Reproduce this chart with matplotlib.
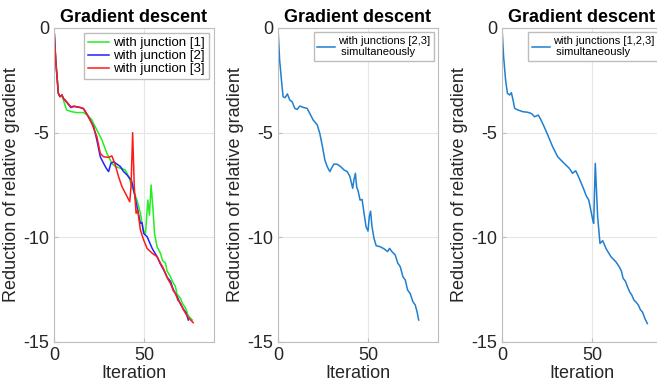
import matplotlib.pyplot as plt

plt.rcParams['font.family'] = ['Liberation Sans', 'DejaVu Sans']
plt.rcParams['axes.unicode_minus'] = False

# data: (iteration, reduction of relative gradient)
j1_it = [0, 1, 2.4, 3.3, 4.4, 5.2, 7, 9.8, 12.6, 16.3, 18.5, 20.9, 23.7, 26.5, 29.3, 32, 33.9, 36.7,
         39.4, 41.3, 43.1, 45.9, 47.8, 49.3, 50.6, 51.9, 52.8, 53.7, 54.8, 55.6, 57, 58.9, 60, 61.7,
         62.5, 64.4, 65.5, 67.2, 68, 70, 71, 72.8, 74, 75.6, 76.5]
j1_val = [0, -1.6, -3.12, -3.28, -3.2, -3.45, -3.92, -4.0, -4.04, -4.04, -4.16, -4.39, -4.87, -5.35,
          -5.99, -6.46, -6.62, -6.7, -6.78, -7.1, -7.58, -8.22, -8.85, -9.65, -9.81, -8.22, -8.94,
          -7.5, -8.7, -9.81, -10.45, -10.76, -11.1, -11.24, -11.6, -11.88, -12.1, -12.36, -12.7,
          -12.92, -13.15, -13.39, -13.7, -13.87, -13.95]

j2_it = [0, 1, 2.4, 3.3, 4.4, 5.2, 7, 9.3, 11.1, 14.4, 16.3, 18.5, 21.9, 23.7, 25.6, 27.4, 28.9, 30.2,
         31.5, 33, 34.8, 36.7, 38.5, 40.4, 41.9, 42.8, 43.7, 45.9, 47.8, 48.7, 49.6, 51.5, 54.3, 57,
         59, 60.7, 62.5, 64.4, 66, 68.1, 70, 71.9, 73, 73.7, 74.3]
j2_val = [0, -1.6, -3.12, -3.28, -3.2, -3.36, -3.55, -3.8, -3.75, -3.8, -3.86, -4.16, -4.71, -5.35,
          -6.15, -6.46, -6.7, -6.86, -6.46, -6.39, -6.5, -6.62, -6.86, -7.02, -7.18, -7.26, -7.58,
          -8.54, -9.33, -9.3, -9.81, -9.97, -10.53, -10.92, -11.3, -11.56, -11.9, -12.1, -12.5,
          -12.83, -13.2, -13.47, -13.6, -13.79, -13.95]

j3_it = [0, 1, 2.4, 3.3, 4.4, 5.2, 7, 9.3, 11.1, 14.4, 16.3, 18.5, 20.9, 23.7, 25.6, 27.4, 30.2, 32,
         33.9, 35.7, 37.6, 40, 41.9, 42.6, 43.5, 44.4, 45.4, 46.3, 47.8, 49.6, 51.5, 54.3, 57, 58.9,
         60, 61.7, 63, 64.4, 66, 67.2, 68.5, 70, 71.5, 72.8, 74, 75.6, 77]
j3_val = [0, -1.6, -3.12, -3.28, -3.2, -3.36, -3.52, -3.76, -3.73, -3.79, -3.84, -4.16, -4.55, -5.19,
          -5.99, -6.15, -6.18, -6.11, -6.54, -7.1, -7.58, -7.98, -8.3, -7.58, -5.0, -7.58, -8.85,
          -8.7, -9.65, -10.13, -10.53, -10.76, -10.92, -11.24, -11.4, -11.72, -12.0, -12.2, -12.55,
          -12.68, -13.0, -13.15, -13.45, -13.63, -13.8, -13.95, -14.08]

j23_it = [0, 0.9, 1.9, 2.8, 3.9, 5.2, 6.5, 7.8, 9.3, 10.6, 12, 13.9, 16.1, 17.6, 19.4, 21.7, 23.1,
          24.6, 25.9, 27.2, 28.7, 29.6, 30.9, 32.8, 34.6, 36.5, 38.3, 39.8, 41.3, 42, 42.8, 43.5,
          44.4, 45.4, 46.5, 47.6, 48.7, 49.8, 50.5, 51.2, 52, 53.1, 54.3, 56.5, 58.7, 60.6, 61.7, 63,
          64.8, 66.3, 67.6, 69.1, 70.4, 71.7, 73.1, 74.6, 75.9, 76.9, 77.8]
j23_val = [0, -1.53, -2.48, -3.28, -3.33, -3.15, -3.44, -3.52, -3.84, -3.89, -3.73, -3.79, -3.84,
           -4.08, -4.39, -4.63, -5.03, -5.67, -6.3, -6.62, -6.86, -6.7, -6.5, -6.51, -6.62, -6.78,
           -6.86, -7.1, -7.66, -7.26, -6.94, -7.58, -7.82, -8.22, -8.19, -8.85, -9.49, -9.7, -9.0,
           -8.75, -9.49, -10.05, -10.4, -10.45, -10.55, -10.68, -10.53, -10.68, -10.84, -11.24,
           -11.4, -11.88, -12.04, -12.52, -12.68, -13.07, -13.23, -13.55, -13.95]

j123_it = [0, 0.9, 2, 3, 4.2, 5.2, 6.1, 7, 8.9, 11.6, 13.8, 15.2, 16.5, 18, 20.1, 21.6, 23.5, 25.3,
           28, 30.8, 34.4, 37.2, 39, 40.8, 42.7, 45.4, 46.5, 48, 50.2, 50.7, 51.6, 52.9, 54.2, 55.7,
           57.5, 60.3, 63, 64.8, 66, 67, 68.3, 69.4, 70.6, 71.8, 73, 74, 75.4, 76.5, 77.7, 79.1, 80.4]
j123_val = [0, -1.39, -2.5, -3.12, -3.2, -3.09, -3.44, -3.84, -3.92, -4.0, -4.02, -4.05, -4.1, -4.24,
            -4.16, -4.4, -4.75, -5.11, -5.67, -6.15, -6.47, -6.7, -6.94, -6.82, -7.18, -7.74, -8.0,
            -8.22, -9.17, -9.33, -6.47, -9.01, -10.29, -10.16, -10.53, -10.93, -11.17, -11.4,
            -11.6, -11.96, -12.1, -12.36, -12.6, -12.76, -13.0, -13.08, -13.23, -13.45, -13.57,
            -13.89, -14.12]

fig = plt.figure(figsize=(6.57, 3.86), dpi=100)
W, H = 657, 386
lefts = [54, 278, 502]
axes = [fig.add_axes([l / W, (H - 342) / H, 160 / W, 314 / H]) for l in lefts]


def style(ax):
    ax.set_xlim(0, 88.5)
    ax.set_ylim(-15, 0)
    ax.set_xticks([0, 50])
    ax.set_yticks([0, -5, -10, -15])
    ax.grid(True, color='#e6e6e6', linewidth=0.8)
    ax.set_axisbelow(True)
    for s in ax.spines.values():
        s.set_color('#bdbdbd')
        s.set_linewidth(0.8)
    ax.tick_params(direction='in', length=3, colors='#bdbdbd', labelcolor='#262626', labelsize=13)
    ax.set_xlabel('Iteration', fontsize=13, color='#262626', labelpad=1)
    ax.set_ylabel('Reduction of relative gradient', fontsize=13, color='#262626', labelpad=2)
    ax.set_title('Gradient descent', fontsize=13, fontweight='bold', pad=4)


ax1, ax2, ax3 = axes
ax1.plot(j1_it, j1_val, color='#22ee22', lw=1.1, label='with junction [1]')
ax1.plot(j2_it, j2_val, color='#2222ff', lw=1.1, label='with junction [2]')
ax1.plot(j3_it, j3_val, color='#ff1a1a', lw=1.1, label='with junction [3]')
ax2.plot(j23_it, j23_val, color='#1f7fd0', lw=1.1, label='with junctions [2,3]\n simultaneously')
ax3.plot(j123_it, j123_val, color='#1f7fd0', lw=1.1, label='with junctions [1,2,3]\n simultaneously')

for ax in axes:
    style(ax)

leg_kw = dict(loc='upper right', fancybox=False, edgecolor='#bdbdbd', framealpha=1,
              borderaxespad=0.4, handlelength=1.6, handletextpad=0.3, borderpad=0.3,
              labelspacing=0.05)
ax1.legend(fontsize=9.5, **leg_kw)
ax2.legend(fontsize=8, **leg_kw)
ax3.legend(fontsize=8, **leg_kw)

fig.savefig('out.png', dpi=100)
